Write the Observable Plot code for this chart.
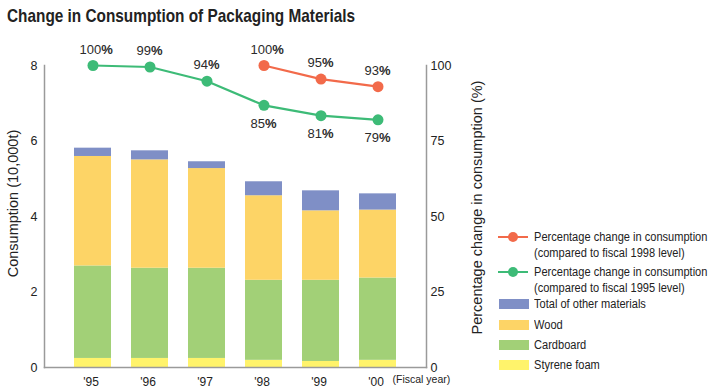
<!DOCTYPE html>
<html>
<head>
<meta charset="utf-8">
<script src="https://cdn.jsdelivr.net/npm/d3@7"></script>
<script src="https://cdn.jsdelivr.net/npm/@observablehq/plot@0.6"></script>
<style>
  html, body { margin: 0; padding: 0; background: #fff; }
  #wrap { position: relative; width: 709px; height: 389px; overflow: hidden; font-family: "Liberation Sans", Arial, sans-serif; color: #222; }
  #wrap svg { position: absolute; left: 0; top: 0; background: transparent; overflow: visible; }
  #title { position: absolute; left: 7px; top: 5px; font-family: "Liberation Sans", Arial, sans-serif; font-weight: bold; font-size: 18.5px; color: #222; white-space: nowrap; transform: scaleX(0.83); transform-origin: 0 0; z-index: 3; }
  #legend { position: absolute; left: 497px; top: 229px; font-family: "Liberation Sans", Arial, sans-serif; font-size: 12.5px; color: #222; z-index: 3; }
  .lg { position: absolute; left: 0; white-space: nowrap; }
  .lg .sym { position: absolute; left: 2px; width: 30px; }
  .lg .txt { position: absolute; left: 37px; line-height: 16px; transform: scaleX(0.885); transform-origin: 0 0; }
</style>
</head>
<body>
<div id="wrap">
  <div id="title">Change in Consumption of Packaging Materials</div>
  <div id="legend"></div>
</div>
<script>
// ---- data ----
const years = ["'95", "'96", "'97", "'98", "'99", "'00"];
const materials = ["Styrene foam", "Cardboard", "Wood", "Total of other materials"];
const materialColors = ["#fff36b", "#a2d077", "#fdd466", "#7f8fc6"];
const styrene = [0.24, 0.24, 0.24, 0.19, 0.16, 0.19];
const cardboard = [2.45, 2.39, 2.39, 2.12, 2.15, 2.18];
const wood = [2.90, 2.87, 2.64, 2.24, 1.84, 1.80];
const other = [0.22, 0.24, 0.18, 0.37, 0.53, 0.43];

const pct1995 = [100, 99.5, 94.8, 86.8, 83.4, 82.0];
const pct1995Labels = ["100", "99", "94", "85", "81", "79"];
const pct1995Below = [false, false, false, true, true, true];
const years1998 = ["'98", "'99", "'00"];
const pct1998 = [100, 95.5, 93.0];
const pct1998Labels = ["100", "95", "93"];

const leftTicks = [0, 2, 4, 6, 8];
const rightTicks = [0, 25, 50, 75, 100];

const green = "#3dbb77";
const orange = "#f26a4a";
const axisGrey = "#9a9a9a";
const labelInk = "#2b2b2b";

// ---- tables ----
const seriesByMaterial = [styrene, cardboard, wood, other];
const bars = [];
years.forEach((yr, i) => {
  materials.forEach((m, j) => bars.push({year: yr, material: m, value: seriesByMaterial[j][i]}));
});
const line95 = years.map((yr, i) => ({year: yr, pct: pct1995[i], label: pct1995Labels[i], below: pct1995Below[i]}));
const line98 = years1998.map((yr, i) => ({year: yr, pct: pct1998[i], label: pct1998Labels[i]}));

const W = 709, H = 389;
const common = {
  width: W, height: H,
  marginLeft: 44, marginRight: 283, marginTop: 65, marginBottom: 22,
  style: {background: "transparent", fontFamily: "'Liberation Sans', Arial, sans-serif", color: "#222"}
};
const xScale = {domain: years, type: "band", paddingInner: 0.345, paddingOuter: 0.466, axis: null};

// ---- bar chart (left axis) ----
const barChart = Plot.plot({
  ...common,
  x: xScale,
  y: {domain: [0, 8], axis: null},
  color: {domain: materials, range: materialColors},
  marks: [
    Plot.barY(bars, {x: "year", y: "value", fill: "material", order: materials}),
    Plot.frame({anchor: "left", stroke: axisGrey, strokeWidth: 1.5}),
    Plot.frame({anchor: "bottom", stroke: axisGrey, strokeWidth: 1.5}),
    Plot.axisY(leftTicks, {anchor: "left", tickSize: 0, tickPadding: 7, fontSize: 12.5, label: null}),
    Plot.axisX(years, {anchor: "bottom", tickSize: 0, tickPadding: 9.5, fontSize: 12, label: null, dx: -2}),
    Plot.text(["Consumption (10,000t)"], {frameAnchor: "left", textAnchor: "middle", rotate: -90, dx: -31, dy: -13, fontSize: 14.5}),
    Plot.text(["(Fiscal year)"], {frameAnchor: "bottom-right", textAnchor: "start", dx: -34, dy: 15.5, fontSize: 10.5})
  ]
});

// ---- percentage line chart (right axis) ----
const lineChart = Plot.plot({
  ...common,
  x: xScale,
  y: {domain: [0, 100], axis: null},
  marks: [
    Plot.frame({anchor: "right", stroke: axisGrey, strokeWidth: 1.5}),
    Plot.axisY(rightTicks, {anchor: "right", tickSize: 0, tickPadding: 4, fontSize: 12.5, label: null}),
    Plot.text(["Percentage change in consumption (%)"], {frameAnchor: "right", textAnchor: "middle", rotate: -90, dx: 51, dy: -9, fontSize: 14.5}),
    Plot.line(line95, {x: "year", y: "pct", stroke: green, strokeWidth: 2.2}),
    Plot.dot(line95, {x: "year", y: "pct", r: 5.5, fill: green}),
    Plot.line(line98, {x: "year", y: "pct", stroke: orange, strokeWidth: 2.2}),
    Plot.dot(line98, {x: "year", y: "pct", r: 5.5, fill: orange}),
    Plot.text(line95.filter(d => !d.below), {x: "year", y: "pct", text: "label", textAnchor: "start", dx: -13.5, dy: -16, fontSize: 13, fill: labelInk}),
    Plot.text(line95.filter(d => d.below), {x: "year", y: "pct", text: "label", textAnchor: "start", dx: -13.5, dy: 18, fontSize: 13, fill: labelInk}),
    Plot.text(line98, {x: "year", y: "pct", text: "label", textAnchor: "start", dx: -13.5, dy: -16, fontSize: 13, fill: labelInk})
  ]
});

// append a bold % sign to the percentage labels
const labelSet = new Set([...pct1995Labels, ...pct1998Labels]);
d3.select(lineChart).selectAll("text").each(function() {
  const g = this.parentNode;
  if (!g || g.getAttribute("fill") !== labelInk) return;
  const t = d3.select(this);
  const num = t.text();
  if (!labelSet.has(num)) return;
  t.text(null);
  t.append("tspan").text(num);
  t.append("tspan").attr("font-weight", "bold").text("%");
});

const wrap = document.getElementById("wrap");
wrap.appendChild(barChart);
wrap.appendChild(lineChart);

// ---- legend ----
const legendItems = [
  {type: "line", color: orange, text: ["Percentage change in consumption", "(compared to fiscal 1998 level)"], top: 0},
  {type: "line", color: green, text: ["Percentage change in consumption", "(compared to fiscal 1995 level)"], top: 35},
  {type: "swatch", color: materialColors[3], text: [materials[3]], top: 67},
  {type: "swatch", color: materialColors[2], text: [materials[2]], top: 88},
  {type: "swatch", color: materialColors[1], text: [materials[1]], top: 108},
  {type: "swatch", color: materialColors[0], text: [materials[0]], top: 128}
];
const legend = d3.select("#legend");
legendItems.forEach(it => {
  const row = legend.append("div").attr("class", "lg").style("top", it.top + "px");
  if (it.type === "line") {
    const s = row.append("svg").attr("width", 32).attr("height", 14)
      .style("position", "absolute").style("left", "0px").style("top", "1px");
    s.append("line").attr("x1", 1).attr("x2", 31).attr("y1", 7).attr("y2", 7).attr("stroke", it.color).attr("stroke-width", 2);
    s.append("circle").attr("cx", 16).attr("cy", 7).attr("r", 5).attr("fill", it.color);
  } else {
    row.append("div").attr("class", "sym").style("top", "3px").style("height", "10px").style("background", it.color);
  }
  row.append("div").attr("class", "txt").style("top", "0px").html(it.text.join("<br>"));
});
</script>
</body>
</html>
